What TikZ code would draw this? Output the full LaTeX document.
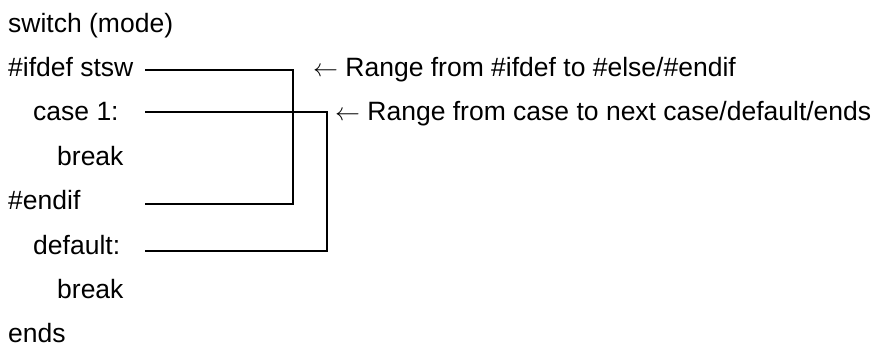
\documentclass[tikz,border=0pt]{standalone}
\usepackage{fontspec}
\setmainfont{Liberation Sans}
\begin{document}
\begin{tikzpicture}[x=1pt,y=-1pt,
  code/.style={anchor=base west,inner sep=0pt,font=\fontsize{26.5}{30}\selectfont},
  bracket/.style={line width=1.6pt,line join=miter,line cap=butt}]
\useasboundingbox (0,0) rectangle (877,349);
\node[code] (sw) at (8,32) {switch (mode)};
\node[code] (ifd) at (8,76.4) {\#ifdef stsw};
\node[code] (c1) at (33,120.8) {case 1:};
\node[code] (b1) at (57,165.2) {break};
\node[code] (endif) at (8,209.6) {\#endif};
\node[code] (def) at (33,254) {default:};
\node[code] (b2) at (57,298.4) {break};
\node[code] (ends) at (8,342.8) {ends};
\node[code] (r1) at (313,76) {$\leftarrow$ Range from \#ifdef to \#else/\#endif};
\node[code] (r2) at (335,120) {$\leftarrow$ Range from case to next case/default/ends};
\coordinate (p1) at (145,70);
\coordinate (q1) at (293,70);
\coordinate (q2) at (293,204);
\coordinate (p2) at (145,204);
\coordinate (p3) at (145,112);
\coordinate (q3) at (327,112);
\coordinate (q4) at (327,251);
\coordinate (p4) at (145,251);
\draw[bracket] (p1) -- (q1) -- (q2) -- (p2);
\draw[bracket] (p3) -- (q3) -- (q4) -- (p4);
\end{tikzpicture}
\end{document}
